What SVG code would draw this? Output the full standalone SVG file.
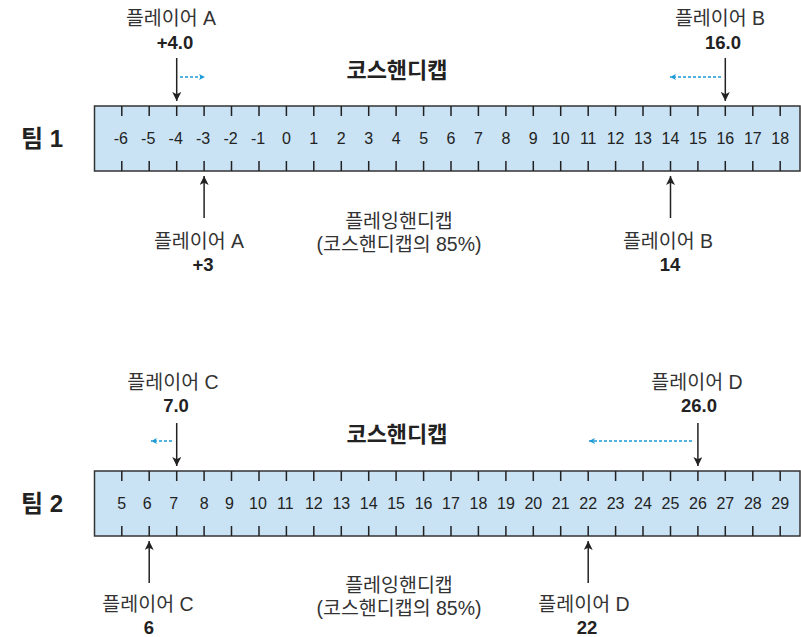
<svg xmlns="http://www.w3.org/2000/svg" width="801" height="637" viewBox="0 0 801 637">
<style>
.bg{fill:#fff}
.ruler{fill:#c9e2f4;stroke:#333;stroke-width:1.5}
.tick{stroke:#222;stroke-width:1.5}
.num{font-family:"Liberation Sans","Noto Sans CJK KR",sans-serif;font-size:16px;fill:#222;text-anchor:middle}
.lbl{font-family:"Liberation Sans","Noto Sans CJK KR",sans-serif;font-size:19.5px;fill:#333;text-anchor:middle}
.val{font-family:"Liberation Sans","Noto Sans CJK KR",sans-serif;font-size:18.5px;font-weight:bold;fill:#222;text-anchor:middle}
.ttl{font-family:"Noto Sans CJK KR",sans-serif;font-size:22px;font-weight:bold;fill:#222;text-anchor:middle}
.team{font-family:"Liberation Sans","Noto Sans CJK KR",sans-serif;font-size:24px;font-weight:bold;fill:#222}
.arr{stroke:#222;stroke-width:1.5;fill:none;marker-end:url(#ah)}
.dot{stroke:#1b9ad6;stroke-width:1.5;stroke-dasharray:3 2;fill:none;marker-end:url(#bh)}
</style>
<defs>
<marker id="ah" viewBox="0 0 10 10" refX="10" refY="5" markerWidth="10" markerHeight="9" markerUnits="userSpaceOnUse" orient="auto">
<path d="M0,0 L10,5 L0,10 L2.5,5 z" fill="#222"/>
</marker>
<marker id="bh" viewBox="0 0 10 10" refX="10" refY="5" markerWidth="7" markerHeight="6" markerUnits="userSpaceOnUse" orient="auto">
<path d="M0,0 L10,5 L0,10 L2.5,5 z" fill="#1b9ad6"/>
</marker>
</defs>
<rect class="bg" x="0" y="0" width="801" height="637"/>

<g id="team1">
<text class="team" x="21" y="147">팀 1</text>
<g id="ruler1">
<rect class="ruler" x="94.5" y="106" width="705.5" height="65"/>
<g id="ticks1">
<path class="tick" d="M121.8,106v10M149.2,106v10M176.7,106v10M204.1,106v10M231.5,106v10M259,106v10M286.4,106v10M313.8,106v10M341.3,106v10M368.7,106v10M396.1,106v10M423.6,106v10M451,106v10M478.4,106v10M505.9,106v10M533.3,106v10M560.7,106v10M588.2,106v10M615.6,106v10M643,106v10M670.5,106v10M697.9,106v10M725.3,106v10M752.8,106v10M780.2,106v10"/>
<path class="tick" d="M121.8,161v10M149.2,161v10M176.7,161v10M204.1,161v10M231.5,161v10M259,161v10M286.4,161v10M313.8,161v10M341.3,161v10M368.7,161v10M396.1,161v10M423.6,161v10M451,161v10M478.4,161v10M505.9,161v10M533.3,161v10M560.7,161v10M588.2,161v10M615.6,161v10M643,161v10M670.5,161v10M697.9,161v10M725.3,161v10M752.8,161v10M780.2,161v10"/>
</g>
<g id="nums1">
<text class="num" x="120.8" y="144">-6</text>
<text class="num" x="148.2" y="144">-5</text>
<text class="num" x="175.7" y="144">-4</text>
<text class="num" x="203.1" y="144">-3</text>
<text class="num" x="230.5" y="144">-2</text>
<text class="num" x="258" y="144">-1</text>
<text class="num" x="286.4" y="144">0</text>
<text class="num" x="313.8" y="144">1</text>
<text class="num" x="341.3" y="144">2</text>
<text class="num" x="368.7" y="144">3</text>
<text class="num" x="396.1" y="144">4</text>
<text class="num" x="423.6" y="144">5</text>
<text class="num" x="451" y="144">6</text>
<text class="num" x="478.4" y="144">7</text>
<text class="num" x="505.9" y="144">8</text>
<text class="num" x="533.3" y="144">9</text>
<text class="num" x="560.7" y="144">10</text>
<text class="num" x="588.2" y="144">11</text>
<text class="num" x="615.6" y="144">12</text>
<text class="num" x="643" y="144">13</text>
<text class="num" x="670.5" y="144">14</text>
<text class="num" x="697.9" y="144">15</text>
<text class="num" x="725.3" y="144">16</text>
<text class="num" x="752.8" y="144">17</text>
<text class="num" x="780.2" y="144">18</text>
</g>
</g>
<text class="ttl" x="397" y="78">코스핸디캡</text>
<g id="p1A-top"><text class="lbl" x="171" y="25">플레이어 A</text><text class="val" x="175" y="48.5">+4.0</text></g>
<g id="p1B-top"><text class="lbl" x="720" y="25">플레이어 B</text><text class="val" x="723" y="48.5">16.0</text></g>
<g id="p1A-bot"><text class="lbl" x="199" y="248">플레이어 A</text><text class="val" x="203" y="270.5">+3</text></g>
<g id="p1B-bot"><text class="lbl" x="668" y="248">플레이어 B</text><text class="val" x="670" y="270.5">14</text></g>
<g id="ph1"><text class="lbl" x="399" y="228">플레잉핸디캡</text><text class="lbl" x="399" y="251">(코스핸디캡의 85%)</text></g>
</g>

<g id="team2">
<text class="team" x="21" y="512">팀 2</text>
<g id="ruler2">
<rect class="ruler" x="94.5" y="471" width="705.5" height="65"/>
<g id="ticks2">
<path class="tick" d="M121.8,471v10M149.2,471v10M176.7,471v10M204.1,471v10M231.5,471v10M259,471v10M286.4,471v10M313.8,471v10M341.3,471v10M368.7,471v10M396.1,471v10M423.6,471v10M451,471v10M478.4,471v10M505.9,471v10M533.3,471v10M560.7,471v10M588.2,471v10M615.6,471v10M643,471v10M670.5,471v10M697.9,471v10M725.3,471v10M752.8,471v10M780.2,471v10"/>
<path class="tick" d="M121.8,526v10M149.2,526v10M176.7,526v10M204.1,526v10M231.5,526v10M259,526v10M286.4,526v10M313.8,526v10M341.3,526v10M368.7,526v10M396.1,526v10M423.6,526v10M451,526v10M478.4,526v10M505.9,526v10M533.3,526v10M560.7,526v10M588.2,526v10M615.6,526v10M643,526v10M670.5,526v10M697.9,526v10M725.3,526v10M752.8,526v10M780.2,526v10"/>
</g>
<g id="nums2">
<text class="num" x="121.8" y="509">5</text>
<text class="num" x="147.2" y="509">6</text>
<text class="num" x="173.7" y="509">7</text>
<text class="num" x="204.1" y="509">8</text>
<text class="num" x="229.5" y="509">9</text>
<text class="num" x="258" y="509">10</text>
<text class="num" x="285.4" y="509">11</text>
<text class="num" x="313.8" y="509">12</text>
<text class="num" x="341.3" y="509">13</text>
<text class="num" x="368.7" y="509">14</text>
<text class="num" x="396.1" y="509">15</text>
<text class="num" x="423.6" y="509">16</text>
<text class="num" x="451" y="509">17</text>
<text class="num" x="478.4" y="509">18</text>
<text class="num" x="505.9" y="509">19</text>
<text class="num" x="533.3" y="509">20</text>
<text class="num" x="560.7" y="509">21</text>
<text class="num" x="588.2" y="509">22</text>
<text class="num" x="615.6" y="509">23</text>
<text class="num" x="643" y="509">24</text>
<text class="num" x="670.5" y="509">25</text>
<text class="num" x="697.9" y="509">26</text>
<text class="num" x="725.3" y="509">27</text>
<text class="num" x="752.8" y="509">28</text>
<text class="num" x="780.2" y="509">29</text>
</g>
</g>
<text class="ttl" x="397" y="442">코스핸디캡</text>
<g id="p2C-top"><text class="lbl" x="173" y="389">플레이어 C</text><text class="val" x="176" y="412">7.0</text></g>
<g id="p2D-top"><text class="lbl" x="697" y="389">플레이어 D</text><text class="val" x="699" y="412">26.0</text></g>
<g id="p2C-bot"><text class="lbl" x="148" y="611">플레이어 C</text><text class="val" x="149" y="634">6</text></g>
<g id="p2D-bot"><text class="lbl" x="584" y="611">플레이어 D</text><text class="val" x="587" y="634">22</text></g>
<g id="ph2"><text class="lbl" x="399" y="592">플레잉핸디캡</text><text class="lbl" x="399" y="615">(코스핸디캡의 85%)</text></g>
</g>

<g id="connectors">
<line class="arr" x1="176.7" y1="58" x2="176.7" y2="101"/>
<line class="arr" x1="725.3" y1="58" x2="725.3" y2="101"/>
<line class="arr" x1="204.1" y1="218" x2="204.1" y2="176"/>
<line class="arr" x1="670.5" y1="218" x2="670.5" y2="176"/>
<line class="dot" x1="180" y1="77" x2="205" y2="77"/>
<line class="dot" x1="721" y1="77" x2="670" y2="77"/>
<line class="arr" x1="176.7" y1="423" x2="176.7" y2="466"/>
<line class="arr" x1="697.9" y1="423" x2="697.9" y2="466"/>
<line class="arr" x1="149.2" y1="583" x2="149.2" y2="541"/>
<line class="arr" x1="588.2" y1="583" x2="588.2" y2="541"/>
<line class="dot" x1="172" y1="441" x2="151" y2="441"/>
<line class="dot" x1="692" y1="441" x2="589" y2="441"/>
</g>
</svg>
